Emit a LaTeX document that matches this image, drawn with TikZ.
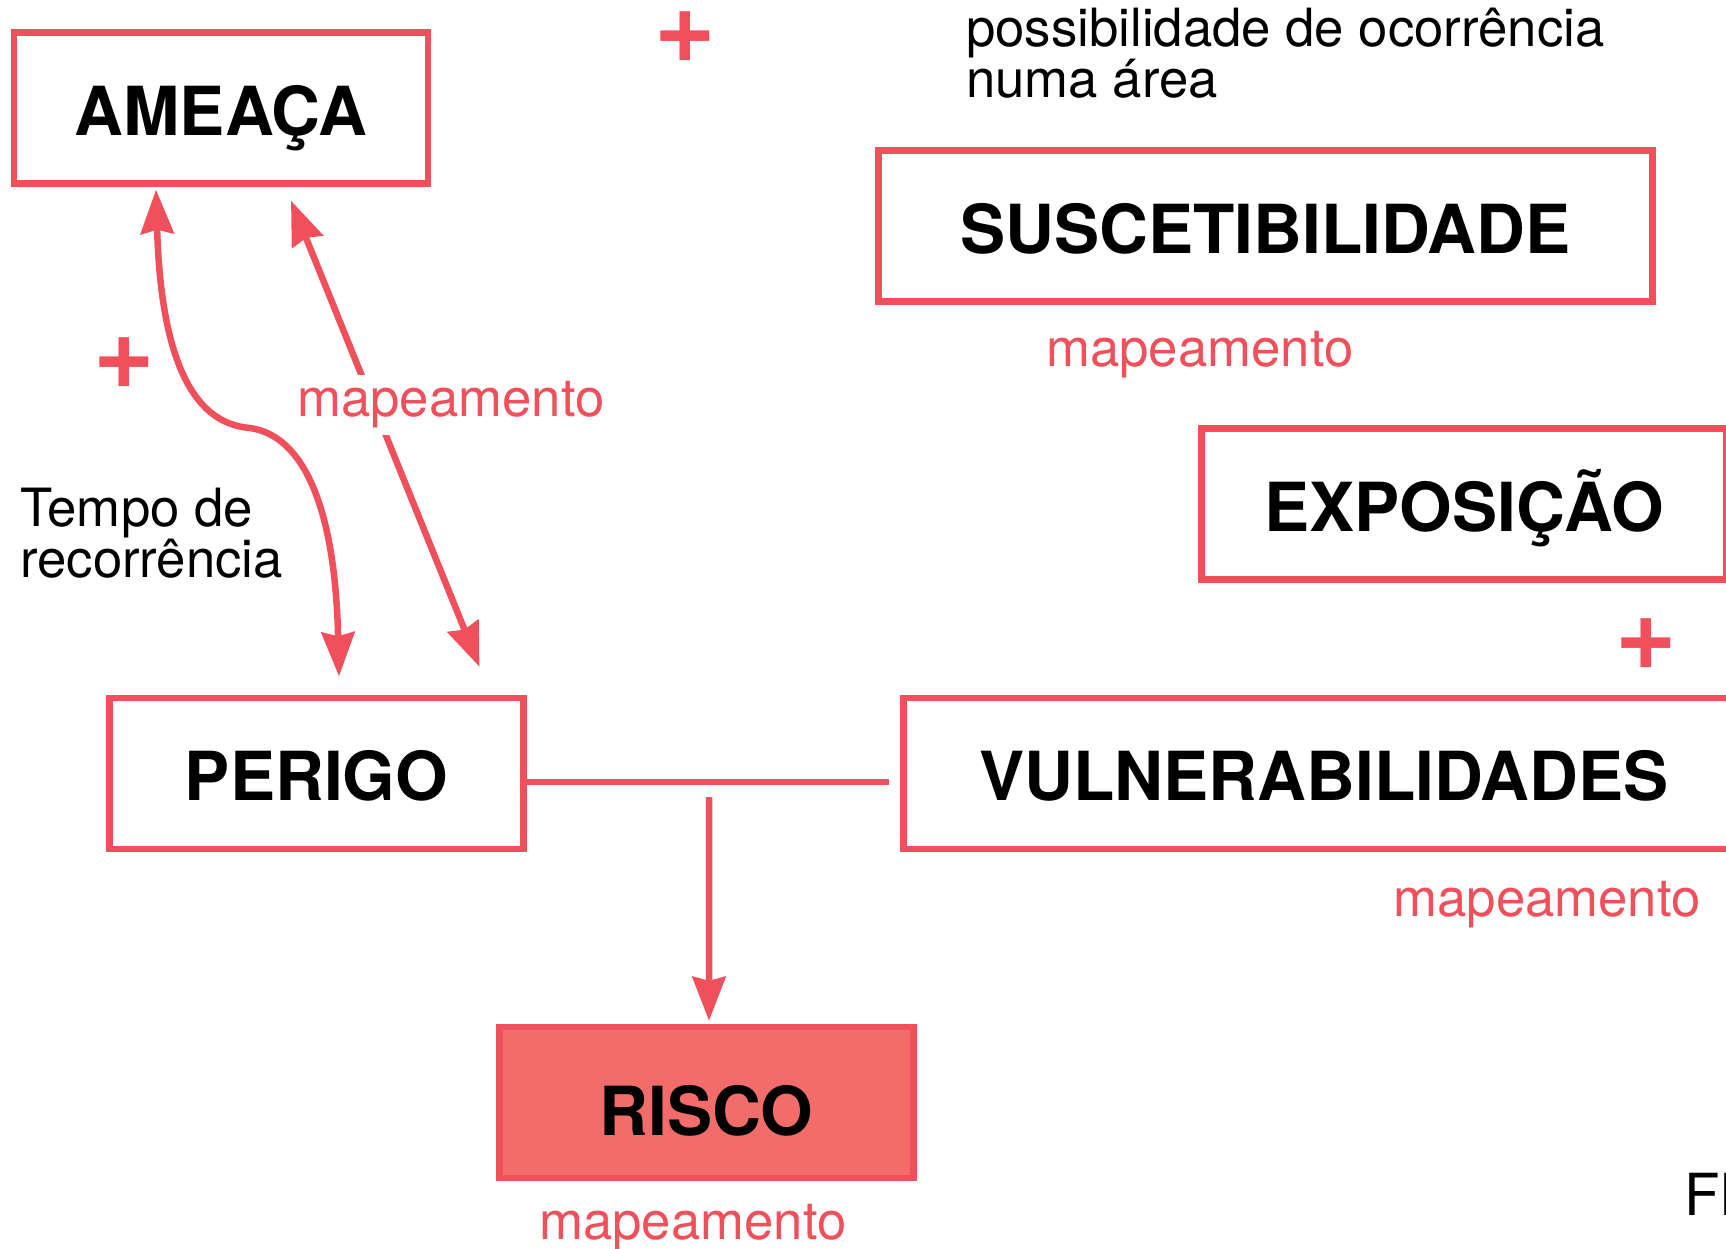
\documentclass[tikz,border=0pt]{standalone}
\usepackage{fontspec}
\setmainfont{TeX Gyre Heros}
\usetikzlibrary{arrows.meta,positioning,calc}
\definecolor{riskRed}{RGB}{239, 80, 91}
\definecolor{riskFill}{RGB}{242, 108, 106}
\tikzset{bigtip/.tip={Stealth[length=0.88cm, width=0.66cm, inset=0.08cm]}}

\begin{document}
\begin{tikzpicture}[
        x=0.02cm, y=-0.02cm,
        concept/.style={rectangle, draw=riskRed, line width=0.13cm, fill=white, minimum width=8.28cm, minimum height=3.02cm, align=center, inner sep=0pt, text height=31pt, text depth=0pt, font=\fontsize{38.5}{46}\selectfont\bfseries},
        riskbox/.style={concept, fill=riskFill, text height=38pt},
        maplabel/.style={text=riskRed, inner sep=4pt, font=\fontsize{30}{36}\selectfont},
        note/.style={anchor=west, align=left, inner sep=0pt, font=\fontsize{30}{29}\selectfont},
        plus/.style={text=riskRed, inner sep=0pt, font=\fontsize{60}{60}\selectfont\bfseries},
        link/.style={draw=riskRed, line width=0.13cm},
        arrow/.style={link, -bigtip},
        twoway/.style={link, bigtip-bigtip}
    ]
        \useasboundingbox (0,0) rectangle (1726,1248);
        \fill[white] (0,0) rectangle (1726,1248);

        % Boxes
        \node[concept] (ameaca) at (221,108) {AMEAÇA};
        \node[concept, minimum width=15.48cm] (suscet) at (1265.5,226) {SUSCETIBILIDADE};
        \node[concept, minimum width=10.5cm] (expo) at (1464,504) {EXPOSIÇÃO};
        \node[concept, minimum width=16.82cm] (vuln) at (1324,773.5) {VULNERABILIDADES};
        \node[concept] (perigo) at (316.5,773.5) {PERIGO};
        \node[riskbox] (risco) at (706.5,1102.5) {RISCO};

        % Plus signs
        \node[plus] (plusTop) at (685,37) {+};
        \node[plus] (plusLeft) at (124,363) {+};
        \node[plus] (plusRight) at (1646,644) {+};

        % Notes
        \node[note] (possib) at (966,53) {possibilidade de ocorrência\\numa área};
        \node[note] (tempo) at (20,533) {Tempo de\\recorrência};
        \node[note, font=\fontsize{33}{33}\selectfont] (credit) at (1684,1194) {FF};

        % Mapping labels
        \node[maplabel] (mapS) at (1200,355) {mapeamento};
        \node[maplabel] (mapV) at (1547,905) {mapeamento};
        \node[maplabel] (mapR) at (693,1228) {mapeamento};

        % Arrows
        \coordinate (bend) at (250,428);
        \draw[twoway] ($(ameaca.south)+(-65,3)$) .. controls +(6,210) and +(-35,-3) .. (bend)
            .. controls +(50,7) and +(-4,-177) .. ($(perigo.north)+(22.5,-18.5)$);
        \draw[twoway] ($(ameaca.south)+(70,14)$) -- ($(perigo.north)+(163,-28)$);
        \node[maplabel, fill=white] (mapA) at (451,405) {mapeamento};

        \draw[link] ($(perigo.east)+(0,8.5)$) -- ($(vuln.west)+(-11,8.5)$);
        \coordinate (join) at (709,797);
        \draw[arrow] (join) -- ($(risco.north)+(2.5,-3)$);

    \end{tikzpicture}
\end{document}
